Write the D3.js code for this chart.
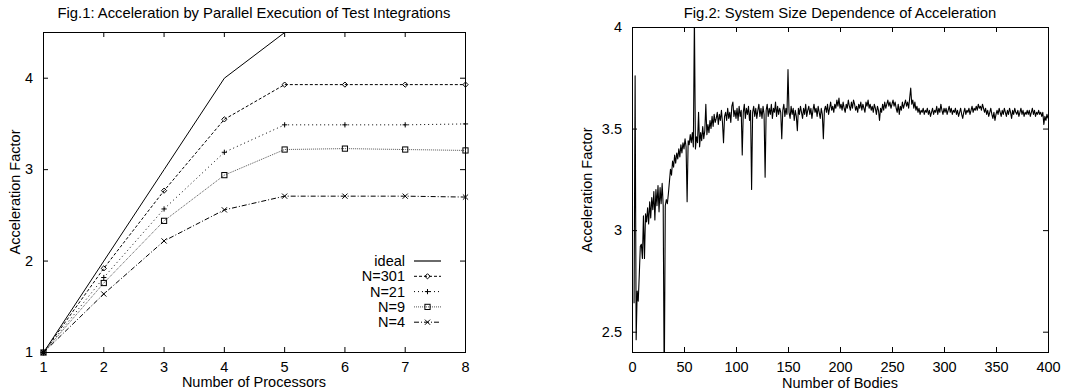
<!DOCTYPE html>
<html>
<head>
<meta charset="utf-8">
<script src="https://cdn.jsdelivr.net/npm/d3@7"></script>
<style>
  body { margin: 0; background: #fff; }
  svg text { font-family: "Liberation Sans", Arial, sans-serif; font-size: 14.5px; fill: #000; }
  svg text.title { font-size: 14.8px; }
</style>
</head>
<body>
<svg id="chart" width="1088" height="390"></svg>
<script>
// Fig.1 data
const processors = [1, 2, 3, 4, 5, 6, 7, 8];
const idealAccel = [1, 2, 3, 4, 4.5, 4.5, 4.5, 4.5];
const accelN301 = [1, 1.92, 2.77, 3.55, 3.93, 3.93, 3.93, 3.93];
const accelN21 = [1, 1.82, 2.57, 3.19, 3.49, 3.49, 3.49, 3.50];
const accelN9 = [1, 1.76, 2.44, 2.94, 3.22, 3.23, 3.22, 3.21];
const accelN4 = [1, 1.64, 2.22, 2.56, 2.71, 2.71, 2.71, 2.70];
const procTicks = [1, 2, 3, 4, 5, 6, 7, 8];
const accelTicks1 = [1, 2, 3, 4];

// Fig.2 data: acceleration for N = 2 .. 400 bodies
const firstBody = 2;
const bodyAccel = [
  2.64, 3.76, 2.46, 2.70, 2.65, 2.78, 2.92, 2.93, 2.86,
  3.07, 2.86, 3.08, 3.04, 3.11, 3.03, 3.14, 3.06, 3.16, 3.10,
  3.19, 3.05, 3.20, 3.12, 3.22, 3.09, 3.21, 3.13, 3.23, 3.12,
  2.20, 3.12, 3.15, 3.13, 3.18, 3.24, 3.30, 3.27, 3.34, 3.31,
  3.37, 3.33, 3.38, 3.35, 3.40, 3.36, 3.42, 3.38, 3.43, 3.40,
  3.45, 3.41, 3.14, 3.44, 3.42, 3.47, 3.43, 3.48, 3.41, 4.05,
  3.40, 3.46, 3.43, 3.58, 3.41, 3.48, 3.44, 3.51, 3.45, 3.49,
  3.62, 3.47, 3.52, 3.48, 3.54, 3.50, 3.56, 3.51, 3.57, 3.53,
  3.55, 3.58, 3.52, 3.57, 3.54, 3.59, 3.53, 3.43, 3.56, 3.58,
  3.54, 3.60, 3.55, 3.58, 3.53, 3.61, 3.63, 3.56, 3.59, 3.55,
  3.60, 3.54, 3.61, 3.56, 3.59, 3.37, 3.58, 3.62, 3.55, 3.60,
  3.57, 3.61, 3.54, 3.59, 3.20, 3.58, 3.61, 3.56, 3.60, 3.55,
  3.59, 3.62, 3.56, 3.60, 3.55, 3.61, 3.57, 3.26, 3.59, 3.62,
  3.56, 3.60, 3.57, 3.62, 3.55, 3.60, 3.58, 3.63, 3.56, 3.61,
  3.57, 3.60, 3.58, 3.45, 3.59, 3.62, 3.56, 3.60, 3.57, 3.79,
  3.58, 3.55, 3.61, 3.57, 3.60, 3.54, 3.59, 3.56, 3.49, 3.60,
  3.57, 3.61, 3.58, 3.55, 3.60, 3.57, 3.62, 3.56, 3.59, 3.61,
  3.57, 3.60, 3.55, 3.59, 3.62, 3.58, 3.60, 3.56, 3.61, 3.58,
  3.55, 3.60, 3.57, 3.45, 3.59, 3.61, 3.58, 3.62, 3.57, 3.60,
  3.63, 3.59, 3.61, 3.58, 3.62, 3.60, 3.64, 3.61, 3.65, 3.60,
  3.62, 3.59, 3.63, 3.60, 3.58, 3.62, 3.60, 3.64, 3.61, 3.59,
  3.63, 3.60, 3.64, 3.62, 3.59, 3.61, 3.58, 3.62, 3.60, 3.63,
  3.59, 3.62, 3.60, 3.58, 3.63, 3.61, 3.64, 3.60, 3.62, 3.59,
  3.61, 3.58, 3.62, 3.60, 3.57, 3.61, 3.59, 3.54, 3.60, 3.58,
  3.62, 3.59, 3.63, 3.60, 3.62, 3.64, 3.61, 3.63, 3.60, 3.62,
  3.64, 3.61, 3.63, 3.60, 3.58, 3.62, 3.57, 3.61, 3.59, 3.63,
  3.60, 3.62, 3.64, 3.61, 3.63, 3.60, 3.65, 3.70, 3.62, 3.64,
  3.60, 3.63, 3.59, 3.61, 3.58, 3.60, 3.57, 3.59, 3.58, 3.60,
  3.57, 3.59, 3.58, 3.60, 3.57, 3.59, 3.56, 3.58, 3.60, 3.57,
  3.59, 3.58, 3.61, 3.57, 3.60, 3.58, 3.62, 3.59, 3.57, 3.60,
  3.58, 3.60, 3.57, 3.59, 3.61, 3.58, 3.60, 3.57, 3.59, 3.58,
  3.60, 3.57, 3.59, 3.56, 3.58, 3.60, 3.57, 3.55, 3.58, 3.60,
  3.57, 3.59, 3.58, 3.60, 3.57, 3.59, 3.61, 3.58, 3.60, 3.59,
  3.61, 3.59, 3.62, 3.60, 3.61, 3.59, 3.62, 3.60, 3.58, 3.60,
  3.57, 3.59, 3.56, 3.58, 3.60, 3.57, 3.55, 3.58, 3.54, 3.57,
  3.59, 3.57, 3.60, 3.58, 3.56, 3.59, 3.57, 3.60, 3.58, 3.56,
  3.59, 3.57, 3.60, 3.58, 3.55, 3.59, 3.57, 3.60, 3.58, 3.57,
  3.59, 3.56, 3.58, 3.60, 3.57, 3.59, 3.56, 3.58, 3.57, 3.59,
  3.57, 3.59, 3.56, 3.58, 3.60, 3.57, 3.59, 3.56, 3.58, 3.57,
  3.59, 3.57, 3.58, 3.56, 3.58, 3.52, 3.56, 3.54, 3.57, 3.55
];
const bodyTicks = [0, 50, 100, 150, 200, 250, 300, 350, 400];
const accelTicks2 = [2.5, 3, 3.5, 4];

const svg = d3.select('#chart');
const TICK = 5;

// frame + mirrored inward ticks (gnuplot style)
function drawFrame(g, x, y, xTicks, yTicks, fmtX, fmtY) {
  const [x0, x1] = x.range();
  const [y0, y1] = y.range();

  g.append('g')
    .attr('transform', `translate(0,${y0})`)
    .call(d3.axisBottom(x).tickValues(xTicks).tickSize(-TICK).tickSizeOuter(0).tickPadding(10).tickFormat(fmtX))
    .call(a => a.select('.domain').remove());
  g.append('g')
    .attr('transform', `translate(0,${y1})`)
    .call(d3.axisTop(x).tickValues(xTicks.slice(1, -1)).tickSize(-TICK).tickFormat(''))
    .call(a => a.select('.domain').remove());
  g.append('g')
    .attr('transform', `translate(${x0},0)`)
    .call(d3.axisLeft(y).tickValues(yTicks).tickSize(-TICK).tickSizeOuter(0).tickPadding(10).tickFormat(fmtY))
    .call(a => a.select('.domain').remove());
  g.append('g')
    .attr('transform', `translate(${x1},0)`)
    .call(d3.axisRight(y).tickValues(yTicks).tickSize(-TICK).tickFormat(''))
    .call(a => a.select('.domain').remove());

  g.selectAll('.tick line').attr('stroke', '#000');
  g.selectAll('.tick text').attr('fill', '#000');
  g.selectAll('g').attr('font-size', null).attr('font-family', null);

  g.append('rect')
    .attr('x', x0 + 0.5).attr('y', y1 + 0.5)
    .attr('width', x1 - x0).attr('height', y0 - y1)
    .attr('fill', 'none').attr('stroke', '#000').attr('stroke-width', 1);
}

function marker(g, kind, cx, cy) {
  const r = 2.6;
  if (kind === 'diamond') {
    g.append('path').attr('d', `M${cx},${cy - r}L${cx + r},${cy}L${cx},${cy + r}L${cx - r},${cy}Z`)
      .attr('fill', 'none').attr('stroke', '#000');
  } else if (kind === 'plus') {
    g.append('path').attr('d', `M${cx - r},${cy}H${cx + r}M${cx},${cy - r}V${cy + r}`)
      .attr('stroke', '#000');
  } else if (kind === 'square') {
    g.append('rect').attr('x', cx - r).attr('y', cy - r).attr('width', 2 * r).attr('height', 2 * r)
      .attr('fill', 'none').attr('stroke', '#000');
  } else if (kind === 'cross') {
    g.append('path').attr('d', `M${cx - r},${cy - r}L${cx + r},${cy + r}M${cx - r},${cy + r}L${cx + r},${cy - r}`)
      .attr('stroke', '#000');
  }
}

// ---------- Fig.1 ----------
const g1 = svg.append('g');
const x1 = d3.scaleLinear().domain([1, 8]).range([43, 465]);
const y1 = d3.scaleLinear().domain([1, 4.5]).range([352, 32]);

drawFrame(g1, x1, y1, procTicks, accelTicks1, d3.format('d'), d3.format('d'));

const series1 = [
  { name: 'ideal', values: idealAccel, dash: null, color: '#000', mark: null },
  { name: 'N=301', values: accelN301, dash: '3,2', color: '#000', mark: 'diamond' },
  { name: 'N=21', values: accelN21, dash: '1,3', color: '#000', mark: 'plus' },
  { name: 'N=9', values: accelN9, dash: '1,1', color: '#555', mark: 'square' },
  { name: 'N=4', values: accelN4, dash: '5,2,1,2', color: '#000', mark: 'cross' }
];

const line1 = d3.line().x((d, i) => x1(processors[i]) + 0.5).y(d => y1(d) + 0.5);

series1.forEach((s, k) => {
  g1.append('path')
    .attr('d', line1(s.values))
    .attr('fill', 'none')
    .attr('stroke', s.color)
    .attr('stroke-width', 1)
    .attr('stroke-dasharray', s.dash);
  if (s.mark) {
    s.values.forEach((v, i) => marker(g1, s.mark, x1(processors[i]) + 0.5, y1(v) + 0.5));
  }

  // legend
  const ly = 261 + k * 15.3;
  g1.append('text').attr('x', 405).attr('y', ly + 5).attr('text-anchor', 'end').text(s.name);
  g1.append('line')
    .attr('x1', 414).attr('x2', 441).attr('y1', ly).attr('y2', ly)
    .attr('stroke', k === 0 ? '#444' : s.color)
    .attr('stroke-width', k === 0 ? 1.6 : 1)
    .attr('stroke-dasharray', s.dash);
  if (s.mark) marker(g1, s.mark, 427.5, ly);
});

g1.append('text').attr('class', 'title').attr('x', 254).attr('y', 18).attr('text-anchor', 'middle')
  .text('Fig.1: Acceleration by Parallel Execution of Test Integrations');
g1.append('text').attr('x', 254).attr('y', 387).attr('text-anchor', 'middle')
  .text('Number of Processors');
g1.append('text').attr('transform', 'translate(20,192) rotate(-90)').attr('text-anchor', 'middle')
  .text('Acceleration Factor');

// ---------- Fig.2 ----------
const g2 = svg.append('g');
const x2 = d3.scaleLinear().domain([0, 400]).range([632, 1048]);
const y2 = d3.scaleLinear().domain([2.4, 4]).range([352, 27]);

svg.append('defs').append('clipPath').attr('id', 'clip2')
  .append('rect').attr('x', 632).attr('y', 27).attr('width', 417).attr('height', 326);

g2.append('path')
  .attr('d', d3.line().x((d, i) => x2(firstBody + i)).y(d => y2(d))(bodyAccel))
  .attr('clip-path', 'url(#clip2)')
  .attr('fill', 'none')
  .attr('stroke', '#000')
  .attr('stroke-width', 1.1)
  .attr('stroke-linejoin', 'round');

drawFrame(g2, x2, y2, bodyTicks, accelTicks2, d3.format('d'), d3.format('~g'));

g2.append('text').attr('class', 'title').attr('x', 840).attr('y', 18).attr('text-anchor', 'middle')
  .text('Fig.2: System Size Dependence of Acceleration');
g2.append('text').attr('x', 840).attr('y', 388).attr('text-anchor', 'middle')
  .text('Number of Bodies');
g2.append('text').attr('transform', 'translate(592,190) rotate(-90)').attr('text-anchor', 'middle')
  .text('Acceleration Factor');
</script>
</body>
</html>
